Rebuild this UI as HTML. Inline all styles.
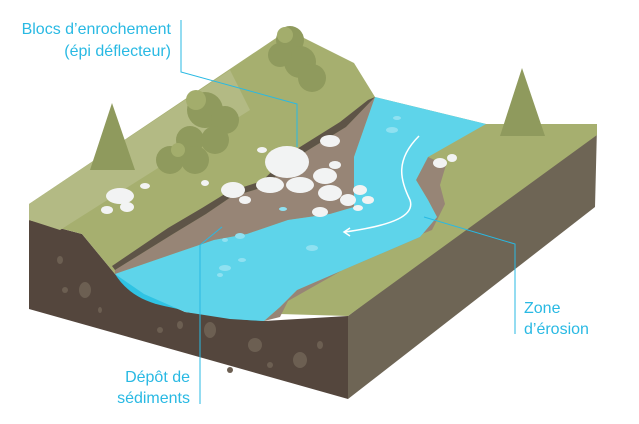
<!DOCTYPE html>
<html><head><meta charset="utf-8"><style>
html,body{margin:0;padding:0;background:#fff}
svg{display:block}
text{font-family:"Liberation Sans Narrow","Liberation Sans",sans-serif;fill:#29b9e3;font-size:16px}
</style></head><body>
<svg width="639" height="424" viewBox="0 0 639 424" xmlns="http://www.w3.org/2000/svg">
<!-- right face -->
<polygon points="348,316 597,127 595,207 348,399" fill="#6e6555"/>
<!-- left/front dirt face -->
<polygon points="29,220 82,234 115,274 144,294 185,312 264,321 348,316 348,399 29,309" fill="#54463d"/>
<g fill="#6c5f52">
<ellipse cx="85" cy="290" rx="6" ry="8"/><ellipse cx="60" cy="260" rx="3" ry="4"/><ellipse cx="65" cy="290" rx="3" ry="3"/>
<ellipse cx="210" cy="330" rx="6" ry="8"/><ellipse cx="180" cy="325" rx="3" ry="4"/><ellipse cx="255" cy="345" rx="7" ry="7"/>
<ellipse cx="300" cy="360" rx="7" ry="8"/><ellipse cx="270" cy="365" rx="3" ry="3"/><ellipse cx="320" cy="345" rx="3" ry="4"/>
<ellipse cx="160" cy="330" rx="3" ry="3"/><ellipse cx="100" cy="310" rx="2" ry="3"/><ellipse cx="230" cy="370" rx="3" ry="3"/>
</g>
<!-- water front face -->
<path d="M115,274 C125,290 140,300 160,305 C190,312 230,320 264,321 L270,318 L115,268 Z" fill="#2fc3e3"/>
<!-- grass top -->
<polygon points="29,204 288,30 354,63 375,97 486,124 597,124 597,135 348,316 280,314 264,321 115,274 82,234 29,220" fill="#a6af6f"/>
<polygon points="29,204 230,70 250,110 60,230 29,220" fill="#b3ba84"/>
<!-- sediment -->
<path d="M115,270 L173,234 206,214 231,197 264,187 297,157 346,127 375,97 354,157 354,207 330,214 288,220 247,234 214,240 173,254 115,274 Z" fill="#978576"/>
<path d="M115,270 L173,234 206,214 231,197 264,187 297,157 346,127 375,97 368,100 340,122 292,152 262,181 228,192 202,208 168,228 112,266 Z" fill="#5e5447"/>
<!-- erosion strip -->
<path d="M428,157 L446,165 440,185 445,204 432,230 371,254 288,301 280,317 264,321 280,307 297,290 350,267 420,237 437,217 428,200 416,180 Z" fill="#978576"/>
<!-- river -->
<path d="M375,97 L486,124 428,157 416,180 428,200 437,217 420,237 350,267 297,290 280,307 264,321 230,319 185,312 144,294 115,274 173,254 214,240 247,234 288,220 330,214 354,207 354,157 Z" fill="#5ed4ea"/>
<g fill="#8fe1f1">
<ellipse cx="392" cy="130" rx="6" ry="3"/><ellipse cx="397" cy="118" rx="4" ry="2"/><ellipse cx="240" cy="236" rx="5" ry="3"/><ellipse cx="225" cy="240" rx="3" ry="2"/>
<ellipse cx="312" cy="248" rx="6" ry="3"/><ellipse cx="225" cy="268" rx="6" ry="3"/><ellipse cx="242" cy="260" rx="4" ry="2"/><ellipse cx="283" cy="209" rx="4" ry="2"/><ellipse cx="220" cy="275" rx="3" ry="2"/>
</g>
<path d="M419,136 C395,160 400,180 410,200 C415,215 395,225 345,232" fill="none" stroke="#fff" stroke-width="1.5"/>
<path d="M350,228 L344,232 350,236" fill="none" stroke="#fff" stroke-width="1.5"/>
<!-- trees -->
<g fill="#8f9a5d">
<circle cx="290" cy="40" r="14"/><circle cx="300" cy="62" r="16"/><circle cx="312" cy="78" r="14"/><circle cx="280" cy="55" r="12"/>
<circle cx="205" cy="110" r="18"/><circle cx="225" cy="120" r="14"/><circle cx="190" cy="140" r="14"/><circle cx="170" cy="160" r="14"/><circle cx="195" cy="160" r="14"/><circle cx="215" cy="140" r="14"/>
<polygon points="112,103 90,170 135,170"/><polygon points="522,68 500,136 545,136"/>
</g>
<g fill="#a3ad6c"><circle cx="196" cy="100" r="10"/><circle cx="285" cy="35" r="8"/><circle cx="178" cy="150" r="7"/></g>
<!-- rocks -->
<g fill="#f2f3f3">
<ellipse cx="287" cy="162" rx="22" ry="16"/><ellipse cx="270" cy="185" rx="14" ry="8"/><ellipse cx="300" cy="185" rx="14" ry="8"/><ellipse cx="325" cy="176" rx="12" ry="8"/>
<ellipse cx="330" cy="193" rx="12" ry="8"/><ellipse cx="348" cy="200" rx="8" ry="6"/><ellipse cx="360" cy="190" rx="7" ry="5"/><ellipse cx="233" cy="190" rx="12" ry="8"/>
<ellipse cx="245" cy="200" rx="6" ry="4"/><ellipse cx="320" cy="212" rx="8" ry="5"/><ellipse cx="335" cy="165" rx="6" ry="4"/><ellipse cx="330" cy="141" rx="10" ry="6"/>
<ellipse cx="120" cy="196" rx="14" ry="8"/><ellipse cx="127" cy="207" rx="7" ry="5"/><ellipse cx="107" cy="210" rx="6" ry="4"/><ellipse cx="145" cy="186" rx="5" ry="3"/>
<ellipse cx="262" cy="150" rx="5" ry="3"/><ellipse cx="205" cy="183" rx="4" ry="3"/><ellipse cx="440" cy="163" rx="7" ry="5"/><ellipse cx="452" cy="158" rx="5" ry="4"/><ellipse cx="368" cy="200" rx="6" ry="4"/><ellipse cx="358" cy="208" rx="5" ry="3"/>
</g>
<!-- leader lines -->
<g fill="none" stroke="#29b9e3" stroke-width="1">
<polyline points="181,20 181,72 297,104 297,147"/>
<polyline points="200,404 200,245 222,227"/>
<polyline points="515,334 515,244 424,217"/>
</g>
<text x="171" y="34" text-anchor="end">Blocs d’enrochement</text>
<text x="171" y="56" text-anchor="end">(épi déflecteur)</text>
<text x="190" y="382" text-anchor="end">Dépôt de</text>
<text x="190" y="403" text-anchor="end">sédiments</text>
<text x="524" y="313">Zone</text>
<text x="524" y="334">d’érosion</text>
</svg>
</body></html>
